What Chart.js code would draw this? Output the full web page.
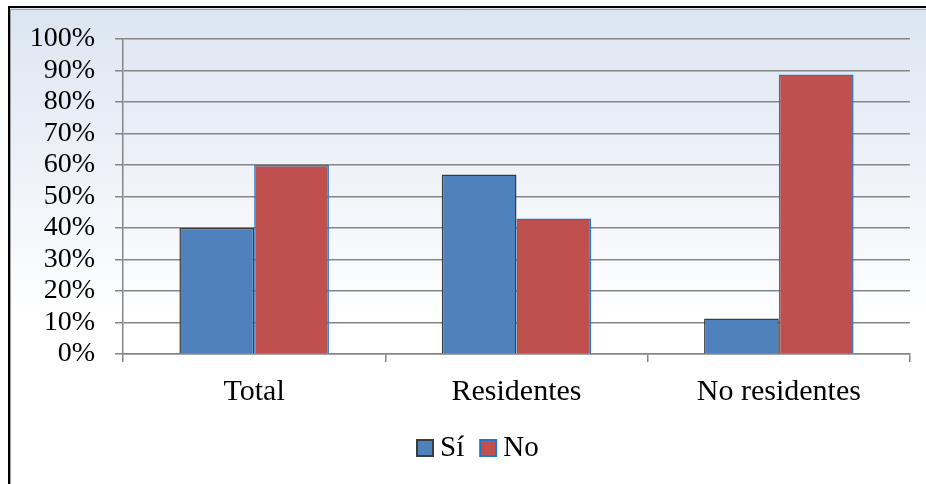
<!DOCTYPE html>
<html>
<head>
<meta charset="utf-8">
<script src="https://cdn.jsdelivr.net/npm/chart.js@4.4.1/dist/chart.umd.min.js"></script>
<style>
html,body{margin:0;padding:0;background:#fff;}
#wrap{position:relative;width:926px;height:484px;}
</style>
</head>
<body>
<div id="wrap"><canvas id="c" width="926" height="484"></canvas></div>
<script>
const categories = ["Total", "Residentes", "No residentes"];
const siValues = [40, 57, 11.3];
const noValues = [60, 43, 88.7];
const yTicks = [0, 10, 20, 30, 40, 50, 60, 70, 80, 90, 100];
const seriesNames = ["Sí", "No"];

const FONT_FAMILY = '"Liberation Serif", "Times New Roman", serif';
const yFont = { family: FONT_FAMILY, size: 28 };
const xFont = { family: FONT_FAMILY, size: 30 };

const bgPlugin = {
  id: 'bg',
  beforeDraw(chart) {
    const ctx = chart.ctx;
    ctx.save();
    ctx.fillStyle = '#ffffff';
    ctx.fillRect(0, 0, chart.width, chart.height);
    const g = ctx.createLinearGradient(0, 8, 0, 320);
    g.addColorStop(0, '#dbe5f1');
    g.addColorStop(0.35, '#e8eef6');
    g.addColorStop(1, '#ffffff');
    ctx.fillStyle = g;
    ctx.fillRect(9, 8, chart.width - 9, chart.height - 8);
    ctx.restore();
  },
  afterDraw(chart) {
    const ctx = chart.ctx;
    ctx.save();
    // custom legend
    const ds = chart.data.datasets;
    ctx.font = '29px ' + FONT_FAMILY;
    ctx.textBaseline = 'alphabetic';
    const box = 16, gapText = 7, gapItem = 16;
    let x = 417;
    const by = 440;
    ds.forEach((d, i) => {
      ctx.fillStyle = d.backgroundColor;
      ctx.fillRect(x, by, box, box);
      ctx.strokeStyle = d.borderColor;
      ctx.lineWidth = 2;
      ctx.strokeRect(x, by, box, box);
      ctx.fillStyle = '#000';
      ctx.fillText(d.label, x + box + gapText, 456);
      x += box + gapText + ctx.measureText(d.label).width + gapItem;
    });
    // frame
    ctx.strokeStyle = '#a0a0a0';
    ctx.lineWidth = 1;
    ctx.beginPath();
    ctx.moveTo(10.5, chart.height);
    ctx.lineTo(10.5, 9.5);
    ctx.lineTo(chart.width, 9.5);
    ctx.stroke();
    ctx.strokeStyle = '#000000';
    ctx.lineWidth = 2;
    ctx.beginPath();
    ctx.moveTo(9, chart.height);
    ctx.lineTo(9, 7);
    ctx.lineTo(chart.width, 7);
    ctx.stroke();
    ctx.restore();
  }
};

new Chart(document.getElementById('c'), {
  type: 'bar',
  data: {
    labels: categories,
    datasets: [
      { label: seriesNames[0], data: siValues, backgroundColor: '#4f81bd', borderColor: '#3c3c3c', borderWidth: 1.5 },
      { label: seriesNames[1], data: noValues, backgroundColor: '#c0504d', borderColor: '#1f78c8', borderWidth: 1.5 }
    ]
  },
  options: {
    responsive: false,
    animation: false,
    devicePixelRatio: 1,
    categoryPercentage: 0.57,
    barPercentage: 1.0,
    layout: { padding: { left: 10, right: 16, top: 39, bottom: 0 } },
    plugins: {
      legend: { display: false },
      tooltip: { enabled: false }
    },
    scales: {
      x: {
        grid: { display: true, drawOnChartArea: false, offset: true, color: '#868686', lineWidth: 1.5, tickLength: 8 },
        border: { color: '#868686', width: 1.5 },
        ticks: { font: xFont, color: '#000', padding: 12, autoSkip: false, maxRotation: 0 },
        afterFit(s) { s.height = 130; }
      },
      y: {
        min: 0, max: 100,
        afterBuildTicks(s) { s.ticks = yTicks.map(v => ({ value: v })); },
        grid: { color: '#868686', lineWidth: 1.5, tickLength: 8 },
        border: { color: '#868686', width: 1.5 },
        ticks: { font: yFont, color: '#000', padding: 20, autoSkip: false, callback: v => v + '%' },
        afterFit(s) { s.width = 113; }
      }
    }
  },
  plugins: [bgPlugin]
});
</script>
</body>
</html>
